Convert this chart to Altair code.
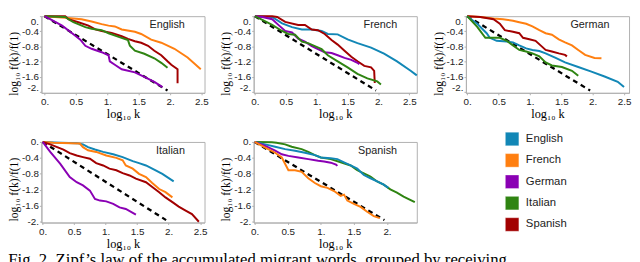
import altair as alt
import pandas as pd

LANGS = ["English", "French", "German", "Italian", "Spanish"]
COLORS = ["#1287b6", "#ff7f10", "#8a00b4", "#2f8412", "#a20000"]

DASH_X = [0.0, 1.96]
DASH_Y = [0.0, -1.96]

# ---- receiving: English ----
en_fr_x = [0, 0.33, 0.59, 0.75, 0.91, 1.02, 1.12, 1.23, 1.44, 1.54, 1.70, 1.86, 2.07, 2.28, 2.49]
en_fr_y = [0, -0.04, -0.08, -0.14, -0.21, -0.25, -0.27, -0.35, -0.41, -0.47, -0.62, -0.70, -0.86, -1.09, -1.40]
en_es_x = [0, 0.33, 0.38, 0.54, 0.70, 0.81, 0.91, 1.07, 1.23, 1.33, 1.44, 1.54, 1.65, 1.75, 1.86, 1.96, 2.02, 2.12, 2.12]
en_es_y = [0, 0, -0.08, -0.16, -0.25, -0.35, -0.39, -0.44, -0.53, -0.60, -0.66, -0.70, -0.78, -0.91, -1.03, -1.19, -1.28, -1.40, -1.77]
en_it_x = [0, 0.33, 0.38, 0.46, 0.65, 0.75, 0.91, 1.02, 1.17, 1.33, 1.36, 1.44, 1.59, 1.75, 1.86, 1.96]
en_it_y = [0, -0.02, -0.08, -0.16, -0.29, -0.33, -0.37, -0.45, -0.54, -0.63, -0.78, -0.91, -0.99, -1.11, -1.23, -1.36]
en_de_x = [0, 0.28, 0.44, 0.57, 0.65, 0.75, 0.91, 1.02, 1.04, 1.12, 1.23, 1.44, 1.59, 1.75, 1.88]
en_de_y = [0, -0.25, -0.45, -0.62, -0.78, -0.86, -0.95, -1.03, -1.19, -1.28, -1.40, -1.48, -1.60, -1.73, -1.87]

# ---- receiving: French ----
fr_en_x = [0, 0.28, 0.44, 0.60, 0.76, 0.92, 1.08, 1.18, 1.34, 1.50, 1.66, 1.88, 2.09, 2.30, 2.52, 2.62]
fr_en_y = [0, -0.02, -0.19, -0.29, -0.35, -0.35, -0.39, -0.47, -0.48, -0.61, -0.71, -0.83, -0.99, -1.19, -1.44, -1.56]
fr_es_x = [0, 0.28, 0.36, 0.49, 0.70, 0.81, 0.92, 1.02, 1.13, 1.24, 1.34, 1.45, 1.56, 1.66, 1.77, 1.88, 1.93, 1.94]
fr_es_y = [0, 0, -0.02, -0.15, -0.23, -0.23, -0.35, -0.37, -0.47, -0.63, -0.75, -0.91, -1.07, -1.19, -1.31, -1.35, -1.44, -1.76]
fr_de_x = [0, 0.12, 0.28, 0.38, 0.49, 0.60, 0.70, 0.81, 0.92, 1.02, 1.13, 1.24, 1.34, 1.45, 1.56, 1.66, 1.69]
fr_de_y = [0, -0.02, -0.08, -0.23, -0.39, -0.43, -0.59, -0.67, -0.79, -0.87, -0.95, -0.97, -1.03, -1.10, -1.15, -1.23, -1.27]
fr_it_x = [0, 0.12, 0.28, 0.44, 0.54, 0.65, 0.76, 0.86, 0.97, 1.08, 1.18, 1.34, 1.50, 1.66, 1.82, 1.98, 2.04]
fr_it_y = [0, -0.10, -0.23, -0.39, -0.47, -0.49, -0.67, -0.71, -0.79, -0.87, -1.03, -1.19, -1.35, -1.52, -1.64, -1.72, -1.80]

# ---- receiving: German ----
de_fr_x = [0, 0.21, 0.42, 0.57, 0.73, 0.83, 0.94, 1.04, 1.15, 1.25, 1.35, 1.46, 1.56, 1.67, 1.77, 1.88, 2.03, 2.14]
de_fr_y = [0, -0.02, -0.06, -0.08, -0.12, -0.16, -0.20, -0.27, -0.37, -0.45, -0.49, -0.61, -0.69, -0.77, -0.89, -1.02, -1.10, -1.11]
de_es_x = [0, 0.21, 0.42, 0.52, 0.60, 0.73, 0.83, 0.89, 0.99, 1.09, 1.17, 1.25, 1.35, 1.46, 1.56, 1.59]
de_es_y = [0, -0.02, -0.08, -0.20, -0.37, -0.41, -0.45, -0.57, -0.61, -0.65, -0.77, -0.89, -0.93, -0.98, -1.02, -1.06]
de_en_x = [0, 0.16, 0.31, 0.36, 0.47, 0.63, 0.73, 0.83, 0.94, 1.04, 1.15, 1.25, 1.41, 1.56, 1.77, 1.98, 2.19, 2.40, 2.50]
de_en_y = [0, -0.20, -0.45, -0.57, -0.65, -0.67, -0.69, -0.77, -0.85, -0.89, -0.92, -0.98, -1.10, -1.22, -1.34, -1.46, -1.59, -1.73, -1.87]
de_it_x = [0, 0.16, 0.29, 0.42, 0.52, 0.63, 0.73, 0.83, 0.94, 1.04, 1.15, 1.25, 1.35, 1.51, 1.67, 1.77]
de_it_y = [0, -0.28, -0.57, -0.57, -0.57, -0.65, -0.77, -0.89, -0.93, -0.98, -1.06, -1.22, -1.30, -1.34, -1.44, -1.57]

# ---- receiving: Italian ----
it_en_x = [0, 0.28, 0.54, 0.64, 0.72, 0.83, 0.96, 1.12, 1.27, 1.43, 1.53, 1.64, 1.74, 1.90, 2.08]
it_en_y = [0, -0.02, -0.03, -0.06, -0.13, -0.19, -0.25, -0.31, -0.38, -0.48, -0.53, -0.59, -0.67, -0.80, -0.99]
it_fr_x = [0, 0.17, 0.59, 0.64, 0.72, 0.85, 1.01, 1.17, 1.27, 1.32, 1.43, 1.53, 1.64, 1.74, 1.85, 1.95, 2.06]
it_fr_y = [0, -0.02, -0.04, -0.13, -0.21, -0.25, -0.34, -0.40, -0.46, -0.59, -0.67, -0.80, -0.88, -1.03, -1.18, -1.26, -1.39]
it_es_x = [0, 0.12, 0.23, 0.33, 0.43, 0.54, 0.64, 0.75, 0.85, 0.96, 1.06, 1.17, 1.27, 1.38, 1.48, 1.64, 1.74, 1.85, 1.95, 2.06, 2.16, 2.27, 2.37, 2.48]
it_es_y = [0, -0.06, -0.13, -0.19, -0.28, -0.34, -0.38, -0.42, -0.53, -0.59, -0.67, -0.71, -0.78, -0.84, -0.92, -1.01, -1.13, -1.26, -1.39, -1.51, -1.62, -1.72, -1.81, -2.0]
it_de_x = [0, 0.12, 0.28, 0.43, 0.54, 0.64, 0.75, 0.83, 0.91, 1.01, 1.12, 1.22, 1.32, 1.48]
it_de_y = [0, -0.25, -0.55, -0.88, -1.01, -1.09, -1.22, -1.43, -1.47, -1.49, -1.55, -1.64, -1.68, -1.82]

# ---- receiving: Spanish ----
es_it_x = [0, 0.26, 0.33, 0.46, 0.56, 0.71, 0.81, 0.91, 1.00, 1.15, 1.30, 1.45, 1.55, 1.65, 1.75, 1.85, 1.95, 2.05, 2.15, 2.25, 2.35, 2.42]
es_it_y = [0, -0.01, -0.02, -0.06, -0.12, -0.18, -0.25, -0.33, -0.39, -0.43, -0.51, -0.59, -0.71, -0.79, -0.87, -0.99, -1.07, -1.19, -1.27, -1.37, -1.45, -1.51]
es_en_x = [0, 0.16, 0.31, 0.46, 0.61, 0.76, 0.91, 1.00, 1.15, 1.25, 1.35, 1.45, 1.55, 1.65, 1.75, 1.85, 1.95, 2.02]
es_en_y = [0, -0.06, -0.12, -0.18, -0.22, -0.27, -0.33, -0.39, -0.41, -0.43, -0.51, -0.59, -0.67, -0.83, -0.91, -0.99, -1.07, -1.15]
es_de_x = [0, 0.16, 0.31, 0.41, 0.51, 0.66, 0.81, 0.96, 1.05, 1.15, 1.23, 1.25]
es_de_y = [0, -0.10, -0.22, -0.31, -0.35, -0.39, -0.43, -0.47, -0.49, -0.52, -0.57, -0.60]
es_fr_x = [0, 0.16, 0.31, 0.41, 0.51, 0.61, 0.71, 0.81, 0.91, 1.00, 1.10, 1.20, 1.30, 1.35, 1.40, 1.50, 1.60, 1.70, 1.80, 1.89]
es_fr_y = [0, -0.14, -0.27, -0.39, -0.71, -0.71, -0.75, -0.91, -1.03, -1.11, -1.15, -1.23, -1.35, -1.32, -1.47, -1.55, -1.63, -1.75, -1.86, -1.91]

Y_TICKS = [-2, -1.6, -1.2, -0.8, -0.4, 0]
X_TICKS = [0, 0.5, 1, 1.5, 2, 2.5]
CAPTION = "Fig. 2. Zipf\u2019s law of the accumulated migrant words, grouped by receiving"

SERIF = "Liberation Serif, DejaVu Serif, serif"
SANS = "Liberation Sans, Arial, sans-serif"
LABEL_EXPR = "datum.value % 1 == 0 ? toString(datum.value) + '.' : toString(datum.value)"

COLOR_SCALE = alt.Scale(domain=LANGS, range=COLORS)
PANEL_W = 166


def panel(name, curves, xdom, xticks, height, top_row):
    rows = []
    for lang, xs, ys in curves:
        for i, (xv, yv) in enumerate(zip(xs, ys)):
            rows.append({"x": xv, "y": yv, "lang": lang, "i": i})
    df = pd.DataFrame(rows)
    dash = pd.DataFrame({"x": DASH_X, "y": DASH_Y})
    xscale = alt.Scale(domain=xdom, nice=False, zero=False)
    yscale = alt.Scale(domain=[-2.02, 0.0], nice=False, zero=False)
    xax = alt.Axis(values=xticks, labelExpr=LABEL_EXPR, title="log\u2081\u2080 k",
                   grid=False, labelFontSize=10, labelFont=SANS, tickSize=2,
                   labelPadding=2, titleFont=SERIF, titleFontSize=12.5,
                   titleFontWeight="normal", titlePadding=1, labelFlush=False)
    yax = alt.Axis(values=Y_TICKS, labelExpr=LABEL_EXPR, title="log\u2081\u2080 f(k)/f(1)",
                   grid=False, labelFontSize=10, labelFont=SANS, tickSize=2,
                   labelPadding=1, titleFont=SERIF, titleFontSize=11.8,
                   titleFontWeight="normal", titlePadding=2, labelFlush=top_row,
                   titleY=48)
    base_dash = alt.Chart(dash).mark_line(color="black", strokeWidth=2.3, strokeDash=[5, 4]).encode(
        x=alt.X("x:Q", scale=xscale, axis=xax),
        y=alt.Y("y:Q", scale=yscale, axis=yax),
    )
    lines = alt.Chart(df).mark_line(strokeWidth=2).encode(
        x=alt.X("x:Q", scale=xscale, axis=xax),
        y=alt.Y("y:Q", scale=yscale, axis=yax),
        color=alt.Color("lang:N", scale=COLOR_SCALE, legend=None),
        order="i:Q",
    )
    label = alt.Chart(pd.DataFrame({"t": [name]})).mark_text(
        align="right", baseline="middle", fontSize=11, font=SANS, color="#222222"
    ).encode(text="t:N", x=alt.value(PANEL_W - 20), y=alt.value(9))
    return alt.layer(base_dash, lines, label).properties(width=PANEL_W, height=height)


english = panel("English", [("French", en_fr_x, en_fr_y), ("Spanish", en_es_x, en_es_y),
                            ("Italian", en_it_x, en_it_y), ("German", en_de_x, en_de_y)],
                [-0.05, 2.55], X_TICKS, 78, True)
french = panel("French", [("English", fr_en_x, fr_en_y), ("Spanish", fr_es_x, fr_es_y),
                          ("German", fr_de_x, fr_de_y), ("Italian", fr_it_x, fr_it_y)],
               [-0.02, 2.62], X_TICKS, 78, True)
german = panel("German", [("French", de_fr_x, de_fr_y), ("Spanish", de_es_x, de_es_y),
                          ("English", de_en_x, de_en_y), ("Italian", de_it_x, de_it_y)],
               [-0.02, 2.58], X_TICKS, 78, True)
italian = panel("Italian", [("English", it_en_x, it_en_y), ("French", it_fr_x, it_fr_y),
                            ("Spanish", it_es_x, it_es_y), ("German", it_de_x, it_de_y)],
                [-0.02, 2.57], X_TICKS, 82, False)
spanish = panel("Spanish", [("Italian", es_it_x, es_it_y), ("English", es_en_x, es_en_y),
                            ("German", es_de_x, es_de_y), ("French", es_fr_x, es_fr_y)],
                [-0.015, 2.45], X_TICKS[:-1], 82, False)

# legend panel (drawn from the colour scale)
leg_df = pd.DataFrame({"lang": LANGS})
leg_y = alt.Y("lang:N", scale=alt.Scale(type="point", domain=LANGS, range=[-3, 84], padding=0), axis=None)
leg_sq = alt.Chart(leg_df).mark_square(size=190, opacity=1, stroke="white", strokeOpacity=0.35,
                                        strokeWidth=1).encode(
    x=alt.value(47), y=leg_y, color=alt.Color("lang:N", scale=COLOR_SCALE, legend=None)
)
leg_tx = alt.Chart(leg_df).mark_text(align="left", baseline="middle", fontSize=11.5, font=SANS,
                                     color="#222222").encode(
    x=alt.value(61), y=leg_y, text="lang:N"
)
legend_panel = alt.layer(leg_sq, leg_tx).properties(
    width=PANEL_W, height=82, view=alt.ViewBackground(strokeOpacity=0)
)

chart = alt.concat(english, french, german, italian, spanish, legend_panel, columns=3,
                   spacing={"row": 50, "column": 50}, bounds="flush").properties(
    padding=0,
    title=alt.TitleParams(CAPTION, orient="bottom", anchor="start", font=SERIF,
                          fontSize=17, fontWeight="normal", color="black", offset=2),
).configure_view(stroke="#b0b0b0", strokeWidth=1).configure_axis(
    domainColor="#b0b0b0", tickColor="#b0b0b0", labelColor="#222222", titleColor="black"
)

chart.save("out.html", embed_options={"renderer": "svg", "actions": False})
